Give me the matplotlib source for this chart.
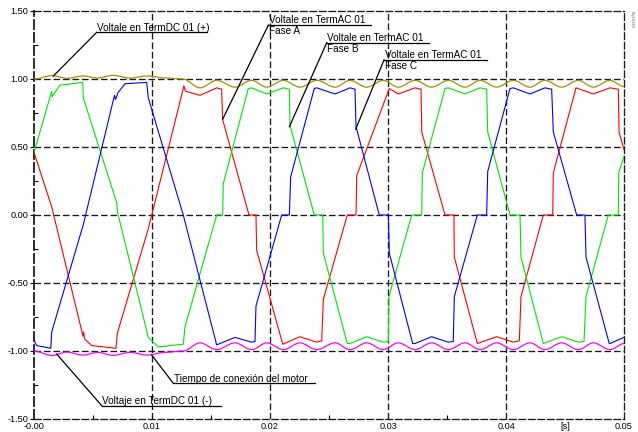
import matplotlib
matplotlib.use("Agg")
import matplotlib.pyplot as plt
from matplotlib.path import Path
from matplotlib.patches import PathPatch

plt.rcParams['font.family'] = ['Liberation Sans', 'DejaVu Sans']

# phase voltages at TermAC 01 [p.u.] vs time [s]
red_t = [0.0, 0.0015, 0.00415, 0.0042, 0.00428, 0.00489, 0.00695, 0.00706, 0.00969,
         0.01265, 0.0127, 0.01283, 0.01407, 0.01548, 0.0159, 0.01599, 0.01822, 0.01881,
         0.01887, 0.02108, 0.02254, 0.02396, 0.02438, 0.02452, 0.02655, 0.02729, 0.02735,
         0.03011, 0.03087, 0.03229, 0.0328, 0.03286, 0.03483, 0.03559, 0.03562, 0.03757,
         0.03921, 0.04062, 0.04113, 0.04127, 0.04316, 0.04396, 0.04401, 0.04593, 0.0474,
         0.04881, 0.04952, 0.04958, 0.05]
red_v = [0.46, 0.06, -0.89, -0.86, -0.91, -0.96, -0.98, -0.87, -0.10,
         0.93, 0.95, 0.91, 0.88, 0.935, 0.925, 0.70, 0.0, 0.0,
         -0.26, -0.95, -0.895, -0.935, -0.925, -0.62, 0.0, 0.0, 0.29,
         0.93, 0.89, 0.935, 0.925, 0.61, 0.0, 0.0, -0.31, -0.945,
         -0.895, -0.935, -0.925, -0.60, 0.0, 0.0, 0.31, 0.935, 0.89,
         0.935, 0.925, 0.61, 0.48]

green_t = [0.0, 0.0015, 0.00153, 0.0022, 0.0032, 0.00413, 0.00418, 0.00701, 0.00708,
           0.00969, 0.01053, 0.01265, 0.0128, 0.01548, 0.01599, 0.01604, 0.01816, 0.01845,
           0.01972, 0.02113, 0.02164, 0.02169, 0.02375, 0.02447, 0.02452, 0.02655, 0.02678,
           0.0282, 0.0296, 0.03003, 0.03008, 0.03201, 0.03286, 0.03291, 0.03483, 0.03511,
           0.03653, 0.0378, 0.03836, 0.03845, 0.04034, 0.04119, 0.04127, 0.04316, 0.04472,
           0.04613, 0.04661, 0.04678, 0.04867, 0.04952, 0.04955, 0.05]
green_v = [0.46, 0.91, 0.87, 0.955, 0.965, 0.975, 0.86, 0.09, 0.02,
           -0.90, -0.97, -0.95, -0.82, 0.0, 0.0, 0.23, 0.93, 0.935,
           0.89, 0.935, 0.925, 0.66, 0.0, 0.0, -0.28, -0.945, -0.945,
           -0.895, -0.935, -0.93, -0.60, 0.0, 0.0, 0.31, 0.93, 0.935,
           0.89, 0.935, 0.925, 0.61, 0.0, 0.0, -0.31, -0.945, -0.895,
           -0.935, -0.93, -0.60, 0.0, 0.0, 0.31, 0.43]

blue_t = [0.0, 0.00023, 0.00142, 0.0015, 0.00418, 0.00682, 0.00691, 0.00712, 0.00771,
          0.00955, 0.00969, 0.01265, 0.01548, 0.01703, 0.01845, 0.01873, 0.01881, 0.02099,
          0.02164, 0.02175, 0.02375, 0.02396, 0.02551, 0.02678, 0.0272, 0.02729, 0.02926,
          0.03003, 0.03011, 0.03209, 0.03229, 0.0337, 0.03511, 0.03553, 0.03562, 0.03757,
          0.03836, 0.03845, 0.04034, 0.04062, 0.04203, 0.0433, 0.04387, 0.04401, 0.04599,
          0.04669, 0.04678, 0.04875, 0.04881, 0.05]
blue_v = [-0.92, -0.96, -0.98, -0.86, -0.07, 0.88, 0.85, 0.90, 0.965,
          0.975, 0.86, 0.0, -0.955, -0.90, -0.935, -0.93, -0.67, 0.0,
          0.0, 0.28, 0.93, 0.935, 0.89, 0.935, 0.925, 0.65, 0.0,
          0.0, -0.28, -0.945, -0.945, -0.895, -0.935, -0.93, -0.60, 0.0,
          0.0, 0.32, 0.93, 0.935, 0.89, 0.935, 0.925, 0.61, 0.0,
          0.0, -0.31, -0.945, -0.945, -0.90]

# DC terminal voltages: ripple extrema (peaks / troughs)
dc_t = [0.0, 0.00153, 0.0028, 0.00415, 0.00542, 0.00669, 0.00814, 0.00958, 0.0111,
        0.01263, 0.01407, 0.01548, 0.01703, 0.01845, 0.01972, 0.02113, 0.02254, 0.02396,
        0.02551, 0.02678, 0.0282, 0.0296, 0.03087, 0.03229, 0.0337, 0.03511, 0.03653,
        0.0378, 0.03921, 0.04062, 0.04203, 0.0433, 0.04472, 0.04613, 0.0474, 0.04881, 0.05]
dcp_v = [1.0, 1.025, 1.005, 1.022, 1.007, 1.027, 1.007, 1.022, 1.008,
         1.0, 0.935, 0.99, 0.94, 0.99, 0.94, 0.99, 0.94, 0.99,
         0.94, 0.99, 0.94, 0.99, 0.94, 0.99, 0.94, 0.99, 0.94,
         0.99, 0.94, 0.99, 0.94, 0.99, 0.94, 0.99, 0.94, 0.99, 0.945]
dcm_v = [-1.0, -1.033, -1.008, -1.03, -1.01, -1.032, -1.01, -1.03, -1.01,
         -1.0, -0.94, -0.99, -0.94, -0.99, -0.94, -0.99, -0.94, -0.99,
         -0.94, -0.99, -0.94, -0.99, -0.94, -0.99, -0.94, -0.99, -0.94,
         -0.99, -0.94, -0.99, -0.94, -0.99, -0.94, -0.99, -0.94, -0.99, -0.945]

x_ticks = [0.0, 0.01, 0.02, 0.03, 0.04, 0.045, 0.05]
x_labels = ['-0.00', '0.01', '0.02', '0.03', '0.04', '[s]', '0.05']
y_ticks = [-1.5, -1.0, -0.5, 0.0, 0.5, 1.0, 1.5]
y_labels = ['-1.50', '-1.00', '-0.50', '0.00', '0.50', '1.00', '1.50']


def wave_path(t, v):
    # smooth ripple through extrema (horizontal tangent at each one)
    verts = [(t[0], v[0])]
    codes = [Path.MOVETO]
    for i in range(len(t) - 1):
        d = (t[i + 1] - t[i]) / 3
        verts += [(t[i] + d, v[i]), (t[i + 1] - d, v[i + 1]), (t[i + 1], v[i + 1])]
        codes += [Path.CURVE4] * 3
    return Path(verts, codes)


fig = plt.figure(figsize=(6.38, 4.32), dpi=100)
ax = fig.add_axes([34 / 638, 13 / 432, 590 / 638, 408 / 432])
ax.set_xlim(0, 0.05)
ax.set_ylim(-1.5, 1.5)

dash = (0, (5, 2.2))
for x in [0.01, 0.02, 0.03, 0.04]:
    ax.axvline(x, color='#1a1a1a', lw=0.95, ls=dash, zorder=1)
for y in [-1.0, -0.5, 0.0, 0.5, 1.0]:
    ax.axhline(y, color='#1a1a1a', lw=0.95, ls=dash, zorder=1)
for s in ax.spines.values():
    s.set_linestyle(dash)
    s.set_linewidth(0.95)
    s.set_color('#1a1a1a')
ax.spines['left'].set_linewidth(1.3)

ax.add_patch(PathPatch(wave_path(dc_t, dcp_v), fill=False, edgecolor='#9c9400', lw=0.9, zorder=3))
ax.add_patch(PathPatch(wave_path(dc_t, dcm_v), fill=False, edgecolor='#ff00ff', lw=0.9, zorder=3))
ax.plot(red_t, red_v, color='#ff0000', lw=0.8, zorder=4)
ax.plot(green_t, green_v, color='#00e600', lw=0.8, zorder=4)
ax.plot(blue_t, blue_v, color='#0000ff', lw=0.8, zorder=4)

ax.set_xticks(x_ticks)
ax.set_xticklabels(x_labels)
ax.set_yticks(y_ticks)
ax.set_yticklabels(y_labels)
ax.set_xticks([0.005, 0.015, 0.025, 0.035], minor=True)
ax.set_yticks([-1.25, -0.75, -0.25, 0.25, 0.75, 1.25], minor=True)
ax.tick_params(which='major', length=3, width=0.8, direction='out', labelsize=6.6, pad=1)
ax.tick_params(which='minor', length=3, width=0.8, direction='in')
ax.tick_params(axis='x', which='major', length=0, pad=2.5)
ax.get_xticklabels()[0].set_x(0.0004)


def leader(tip, start, end_t, line1, line2=None):
    ax.plot([tip[0], start[0]], [tip[1], start[1]], color='black', lw=0.9, zorder=5)
    ax.plot([start[0], end_t], [start[1], start[1]], color='black', lw=0.9, zorder=5)
    ax.annotate(line1, (start[0], start[1]), xytext=(0.5, 1.2), textcoords='offset points',
                ha='left', va='baseline', fontsize=7.2, zorder=5)
    if line2:
        ax.annotate(line2, (start[0], start[1]), xytext=(0.5, -0.8), textcoords='offset points',
                    ha='left', va='top', fontsize=7.2, zorder=5)


leader((0.00164, 1.022), (0.00531, 1.343), 0.01464, 'Voltale en TermDC 01 (+)')
leader((0.01599, 0.704), (0.01986, 1.397), 0.02853, 'Voltale en TermAC 01', 'Fase A')
leader((0.02164, 0.649), (0.02481, 1.267), 0.0335, 'Voltale en TermAC 01', 'Fase B')
leader((0.02726, 0.63), (0.02966, 1.140), 0.03836, 'Voltale en TermAC 01', 'Fase C')
leader((0.00997, -1.029), (0.0118, -1.237), 0.02381, 'Tiempo de conexión del motor')
leader((0.00192, -1.022), (0.00574, -1.402), 0.01582, 'Voltaje en TermDC 01 (-)')

fig.text(0.99, 0.975, 'DIgSILENT', rotation=270, fontsize=2.5, color='#666666',
         ha='center', va='top')

fig.savefig('out.png', dpi=100)
